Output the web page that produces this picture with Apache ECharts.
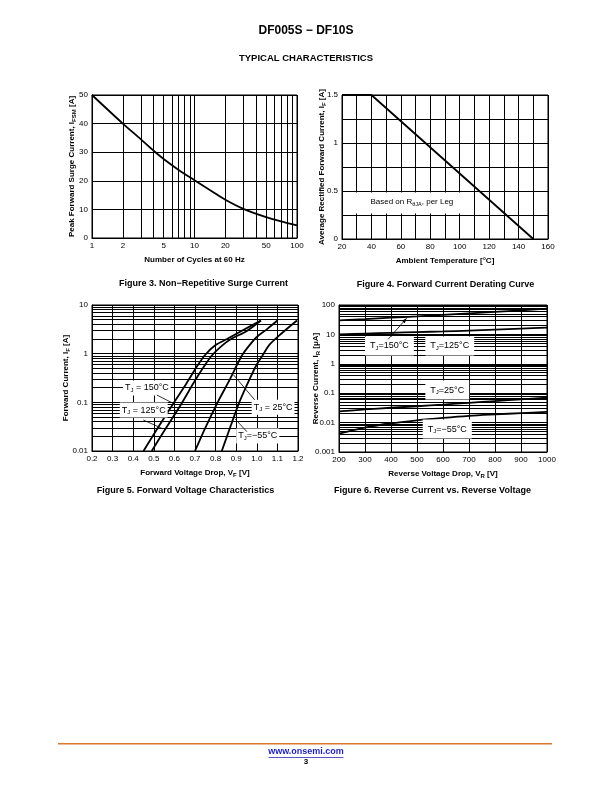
<!DOCTYPE html>
<html><head><meta charset="utf-8">
<script src="https://cdn.jsdelivr.net/npm/echarts@6/dist/echarts.min.js"></script>
<style>html,body{margin:0;padding:0;background:#fff}#c{width:612px;height:792px}</style>
</head><body><div id="c"></div>
<script>
// ---------- DATA ----------
// Figure 3: Non-repetitive surge current
const fig3Cycles = [1, 2, 3, 4, 5, 7, 10, 15, 20, 30, 50, 70, 100];
const fig3Surge  = [50, 40, 34.5, 30.5, 27.6, 23.8, 20.2, 16.2, 13.4, 10.2, 7.3, 5.8, 4.4];
const fig3XTicks = [1, 2, 3, 4, 5, 6, 7, 8, 9, 10, 20, 30, 40, 50, 60, 70, 80, 90, 100];
const fig3XLabels = [1, 2, 5, 10, 20, 50, 100];

// Figure 4: Forward current derating
const fig4Temp    = [20, 40, 150];
const fig4Current = [1.5, 1.5, 0];

// Figure 5: Forward voltage characteristics
const fig5Vf150 = [0.45, 0.52, 0.595, 0.66, 0.71, 0.75, 0.80, 0.855, 0.93, 1.02];
const fig5If150 = [0.01, 0.03, 0.095, 0.25, 0.55, 0.95, 1.5, 2.0, 3.0, 4.8];
const fig5Vf125 = [0.49, 0.56, 0.635, 0.70, 0.75, 0.785, 0.83, 0.875, 0.95, 1.02];
const fig5If125 = [0.01, 0.03, 0.095, 0.28, 0.6, 0.95, 1.45, 2.0, 2.9, 4.8];
const fig5Vf25  = [0.70, 0.75, 0.81, 0.87, 0.905, 0.93, 0.965, 1.0, 1.05, 1.10];
const fig5If25  = [0.01, 0.03, 0.1, 0.3, 0.6, 0.95, 1.5, 2.2, 3.2, 4.8];
const fig5VfM55 = [0.83, 0.87, 0.915, 0.965, 1.0, 1.03, 1.06, 1.12, 1.195];
const fig5IfM55 = [0.01, 0.03, 0.1, 0.3, 0.6, 0.95, 1.5, 2.6, 4.8];
const fig5YDecades = [0.01, 0.1, 1, 10];

// Figure 6: Reverse current vs reverse voltage
const fig6Vr    = [200, 300, 400, 500, 600, 700, 800, 900, 1000];
const fig6Ir150 = [30, 33, 37, 41, 46, 52, 58, 66, 75];
const fig6Ir125 = [10, 10.7, 11.3, 12, 12.6, 13.5, 14.5, 15.7, 17];
const fig6Ir25  = [0.024, 0.028, 0.032, 0.036, 0.041, 0.047, 0.054, 0.062, 0.07];
const fig6IrM55 = [0.0042, 0.0068, 0.0095, 0.012, 0.0145, 0.017, 0.019, 0.021, 0.023];
const fig6YDecades = [0.001, 0.01, 0.1, 1, 10, 100];

// ---------- HELPERS ----------
const FONT = '"Liberation Sans", Arial, Helvetica, sans-serif';
const zip = (a, b) => a.map((v, i) => [v, b[i]]);
function decadeTicks(decades) {
  const out = [];
  decades.forEach((d, i) => {
    if (i === decades.length - 1) { out.push(d); return; }
    for (let k = 1; k <= 9; k++) out.push(+(d * k).toPrecision(6));
  });
  return out;
}
const subRich = {
  s: { fontSize: 6, fontWeight: 'bold', fontFamily: FONT, color: '#000', verticalAlign: 'bottom', lineHeight: 7 }
};
function axis(extra) {
  const base = {
    axisLine: { show: true, onZero: false, lineStyle: { color: '#000', width: 1 } },
    axisTick: { show: false },
    splitLine: { show: true, lineStyle: { color: '#000', width: 1 } },
    nameLocation: 'middle',
    nameMoveOverlap: false,
    nameTextStyle: { color: '#000', fontSize: 8, fontWeight: 'bold', fontFamily: FONT, lineHeight: 10, rich: subRich }
  };
  const o = Object.assign(base, extra);
  o.axisLabel = Object.assign({ color: '#000', fontSize: 8, fontFamily: FONT, margin: 4 }, extra.axisLabel || {});
  return o;
}
const curve = (xi, data, smooth) => ({
  type: 'line', xAxisIndex: xi, yAxisIndex: xi, data, smooth: smooth, symbol: 'none',
  lineStyle: { color: '#000', width: 1.8 }, z: 3, silent: true
});

const option = {
  animation: false,
  backgroundColor: '#fff',
  grid: [
    { left: 92, top: 95, width: 205, height: 143, show: true, borderColor: '#000', borderWidth: 1 },
    { left: 342, top: 95, width: 206, height: 144, show: true, borderColor: '#000', borderWidth: 1 },
    { left: 92, top: 305, width: 206, height: 146, show: true, borderColor: '#000', borderWidth: 1 },
    { left: 339, top: 305, width: 208, height: 147, show: true, borderColor: '#000', borderWidth: 1 }
  ],
  xAxis: [
    axis({ gridIndex: 0, type: 'log', logBase: 10, min: 1, max: 100,
      axisTick: { show: false, customValues: fig3XTicks },
      axisLabel: { customValues: fig3XLabels },
      name: 'Number of Cycles at 60 Hz', nameGap: 17, nameMoveOverlap: true }),
    axis({ gridIndex: 1, type: 'value', min: 20, max: 160, interval: 10,
      axisLabel: { formatter: v => (v % 20 === 0 ? String(v) : '') },
      name: 'Ambient Temperature [°C]', nameGap: 17, nameMoveOverlap: true }),
    axis({ gridIndex: 2, type: 'value', min: 0.2, max: 1.2, interval: 0.1,
      axisLabel: { formatter: v => v.toFixed(1) },
      name: 'Forward Voltage Drop, V{s|F} [V]', nameGap: 17, nameMoveOverlap: true }),
    axis({ gridIndex: 3, type: 'value', min: 200, max: 1000, interval: 100,
      axisLabel: { formatter: v => String(v) },
      name: 'Reverse Voltage Drop, V{s|R} [V]', nameGap: 17, nameMoveOverlap: true })
  ],
  yAxis: [
    axis({ gridIndex: 0, type: 'value', min: 0, max: 50, interval: 10,
      name: 'Peak Forward Surge Current, I{s|FSM} [A]', nameGap: 15 }),
    axis({ gridIndex: 1, type: 'value', min: 0, max: 1.5, interval: 0.25,
      axisLabel: { formatter: v => (Math.abs(v * 2 - Math.round(v * 2)) < 1e-6 ? String(v) : '') },
      name: 'Average Rectified Forward Current, I{s|F} [A]', nameGap: 15 }),
    axis({ gridIndex: 2, type: 'log', logBase: 10, min: 0.01, max: 10,
      axisTick: { show: false, customValues: decadeTicks(fig5YDecades) },
      axisLabel: { customValues: fig5YDecades },
      name: 'Forward Current, I{s|F} [A]', nameGap: 21 }),
    axis({ gridIndex: 3, type: 'log', logBase: 10, min: 0.001, max: 100,
      axisTick: { show: false, customValues: decadeTicks(fig6YDecades) },
      axisLabel: { customValues: fig6YDecades },
      name: 'Reverse Current, I{s|R} [μA]', nameGap: 18 })
  ],
  series: [
    curve(0, zip(fig3Cycles, fig3Surge), 0.3),
    curve(1, zip(fig4Temp, fig4Current), false),
    curve(2, zip(fig5Vf150, fig5If150), 0.3),
    curve(2, zip(fig5Vf125, fig5If125), 0.3),
    curve(2, zip(fig5Vf25, fig5If25), 0.3),
    curve(2, zip(fig5VfM55, fig5IfM55), 0.3),
    curve(3, zip(fig6Vr, fig6Ir150), 0.3),
    curve(3, zip(fig6Vr, fig6Ir125), 0.3),
    curve(3, zip(fig6Vr, fig6Ir25), 0.3),
    curve(3, zip(fig6Vr, fig6IrM55), 0.3)
  ]
};

const chart = echarts.init(document.getElementById('c'), null, { renderer: 'canvas' });
chart.setOption(option);

// ---------- ANNOTATIONS & PAGE TEXT ----------
const P = (g, x, y) => chart.convertToPixel({ gridIndex: g }, [x, y]);
const annRich = {
  n: { fontSize: 9, fontFamily: FONT, color: '#000', lineHeight: 11 },
  s: { fontSize: 6, fontFamily: FONT, color: '#000', verticalAlign: 'bottom', lineHeight: 6 }
};
function label(g, x, y, text, pad) {
  const p = P(g, x, y);
  return { type: 'text', x: p[0], y: p[1], z: 20,
    style: { text, rich: annRich, align: 'left', verticalAlign: 'middle', backgroundColor: '#fff', padding: pad || [3, 3] } };
}
function leader(g, a, b, arrow) {
  const p1 = P(g, a[0], a[1]), p2 = P(g, b[0], b[1]);
  const els = [{ type: 'line', z: 21, shape: { x1: p1[0], y1: p1[1], x2: p2[0], y2: p2[1] },
    style: { stroke: '#000', lineWidth: 0.8 } }];
  if (arrow) {
    const dx = p2[0] - p1[0], dy = p2[1] - p1[1], L = Math.hypot(dx, dy);
    const ux = dx / L, uy = dy / L, px = -uy, py = ux;
    els.push({ type: 'polygon', z: 21, shape: { points: [
      [p2[0], p2[1]],
      [p2[0] - 5 * ux + 2 * px, p2[1] - 5 * uy + 2 * py],
      [p2[0] - 5 * ux - 2 * px, p2[1] - 5 * uy - 2 * py]] }, style: { fill: '#000' } });
  }
  return els;
}
const pageText = (x, y, text, size, fill) => ({ type: 'text', x, y, z: 20,
  style: { text, fontSize: size, fontWeight: 'bold', fontFamily: FONT, fill: fill || '#000', align: 'center', verticalAlign: 'middle' } });

const g = [];
g.push(pageText(306, 31, 'DF005S − DF10S', 12));
g.push(pageText(306, 58, 'TYPICAL CHARACTERISTICS', 9.5));
g.push(pageText(203.5, 283.5, 'Figure 3. Non−Repetitive Surge Current', 9));
g.push(pageText(445.5, 284.5, 'Figure 4. Forward Current Derating Curve', 9));
g.push(pageText(185.5, 490.5, 'Figure 5. Forward Voltage Characteristics', 9));
g.push(pageText(432.5, 490.5, 'Figure 6. Reverse Current vs. Reverse Voltage', 9));
// footer
g.push({ type: 'rect', z: 20, shape: { x: 58, y: 743, width: 494, height: 1.6 }, style: { fill: '#d9782d' } });
g.push(pageText(306, 752, 'www.onsemi.com', 9, '#1f1fb4'));
g.push({ type: 'rect', z: 20, shape: { x: 268.5, y: 757, width: 75, height: 0.8 }, style: { fill: '#1f1fb4' } });
g.push(pageText(306, 762, '3', 8));

// Figure 4 annotation box
(function () {
  const a = P(1, 29, 0.485), b = P(1, 105, 0.265);
  g.push({ type: 'rect', z: 19, shape: { x: a[0], y: a[1], width: b[0] - a[0], height: b[1] - a[1] }, style: { fill: '#fff' } });
  const c = P(1, 67.5, 0.385);
  g.push({ type: 'text', x: c[0], y: c[1], z: 20, style: { text: '{n|Based on R}{s|θJA}{n|, per Leg}', rich: {
    n: { fontSize: 8, fontFamily: FONT, color: '#000', lineHeight: 10 },
    s: { fontSize: 5.5, fontFamily: FONT, color: '#000', verticalAlign: 'bottom', lineHeight: 6 } }, align: 'center', verticalAlign: 'middle' } });
})();

// Figure 5 labels
g.push(...leader(2, [0.515, 0.141], [0.595, 0.095]));
g.push(...leader(2, [0.449, 0.0433], [0.539, 0.0293]));
g.push(...leader(2, [0.99, 0.112], [0.887, 0.366]));
g.push(...leader(2, [0.952, 0.0249], [0.895, 0.0455]));
g.push(label(2, 0.35, 0.197, '{n|T}{s|J}{n| = 150°C}', [2, 2]));
g.push(label(2, 0.335, 0.0695, '{n|T}{s|J}{n| = 125°C}', [2, 2]));
g.push(label(2, 0.975, 0.079, '{n|T}{s|J}{n| = 25°C}', [2, 2]));
g.push(label(2, 0.90, 0.0204, '{n|T}{s|J}{n|=−55°C}', [2, 2]));

// Figure 6 labels
g.push(label(3, 300, 4.03, '{n|T}{s|J}{n|=150°C}', [4, 5]));
g.push(label(3, 532, 4.03, '{n|T}{s|J}{n|=125°C}', [4, 5]));
g.push(label(3, 532, 0.128, '{n|T}{s|J}{n|=25°C}', [4, 5]));
g.push(label(3, 522, 0.00605, '{n|T}{s|J}{n|=−55°C}', [4, 5]));
g.push(...leader(3, [389, 6.81], [460, 35.3], true));

chart.setOption({ graphic: { elements: g } });
</script>
</body></html>
